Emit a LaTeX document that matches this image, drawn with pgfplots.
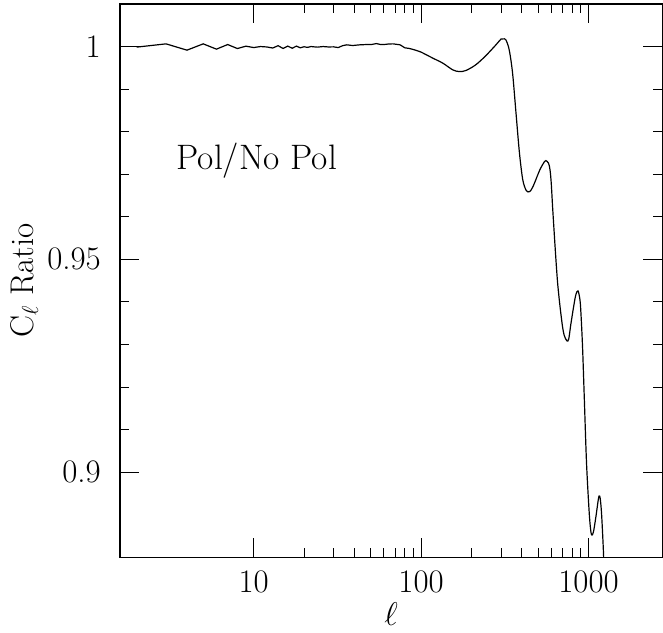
\RequirePackage{fix-cm}
\documentclass[border=0pt]{standalone}
\usepackage{fontspec}
\usepackage{pgfplots}
\pgfplotsset{compat=1.18}

\begin{document}
\begin{tikzpicture}
\begin{axis}[
  name=ax,
  xmode=log,
  width=543bp, height=553.7bp, scale only axis,
  xmin=1.59, xmax=2760,
  ymin=0.88, ymax=1.01,
  xtick={10,100,1000}, xticklabels={10,100,1000},
  ytick={0.9,0.95,1}, yticklabels={0.9,0.95,1},
  /pgf/number format/assume math mode=true,
  minor y tick num=4,
  tick align=inside,
  major tick length=19bp, minor tick length=9.5bp,
  every tick/.style={black, line width=0.9bp},
  axis line style={line width=1.3bp},
  tick label style={font=\fontsize{33}{38}\selectfont, inner sep=0pt},
  xticklabel style={anchor=base, yshift=-35.3bp},
  yticklabel style={anchor=base east, xshift=-19bp, yshift=-10.5bp},
  xlabel={$\ell$},
  ylabel={C$_\ell$ Ratio},
  label style={font=\fontsize{33}{38}\selectfont, inner sep=0pt},
  xlabel style={at={(axis description cs:0.5,-0.124)}, anchor=base},
  ylabel style={at={(axis description cs:-0.160,0.5)}, anchor=base},
]
% low multipoles: jagged
\addplot[black, line width=1.2bp] coordinates {
(2,0.99986) (3,1.00063) (4,0.99915) (5,1.00063) (6,0.99939) (7,1.00047)
(8,0.99953) (9,1.00009) (10,0.99976) (11,1.0000) (12,0.9999) (13,0.99965)
(14,1.0002) (15,0.99955) (16,1.0001) (17,0.9996) (18,1.0001) (19,0.9997)
(20,0.99995) (21,0.9998) (22,1.0000) (24,0.99986) (26,1.0000) (28,0.9999)
(30,0.99993) (32,0.99976) (34,1.0002) (36,1.0004) (39,1.00024) (43,1.0004)
(47,1.00047) (51,1.0005) (54,1.0007) (57,1.0005) (60,1.00047) (64,1.0006)
(68,1.00063) (72,1.0005) (75,1.0004) (80,0.9997) (85,0.99955) (90,0.9993)
(95,0.9990) (100,0.9987)
};
% high multipoles: smooth oscillations
\addplot[black, line width=1.2bp, smooth] coordinates {
(100,0.9987) (117.6,0.99727) (134.8,0.9961) (154.6,0.99452) (169,0.99412)
(185,0.99436) (212,0.9957) (243,0.99781) (280,1.0004) (300,1.00175)
(310,1.0018) (321,1.00157) (336,0.99922) (352,0.99375) (369,0.98434)
(387,0.97494) (405,0.96866) (425,0.96615) (445,0.96591) (466,0.96709)
(512,0.97102) (546,0.97297) (556,0.9732) (577,0.97259) (589,0.97101)
(599,0.96789) (610,0.96239) (624,0.95614) (639,0.94986) (653,0.94469)
(669,0.94046) (684,0.93717) (700,0.93411) (716,0.93211) (743,0.93082)
(762,0.93129) (786,0.93498) (835,0.94123) (865,0.94257) (889,0.94046)
(901,0.93733) (921,0.92948) (943,0.91772) (973,0.90207) (1010,0.89031)
(1033,0.88599) (1048,0.88521) (1071,0.88599) (1107,0.88952) (1143,0.89344)
(1158,0.89438) (1174,0.89384) (1196,0.89031) (1224,0.88246) (1246,0.87463)
};
\node[anchor=base west, font=\fontsize{35.5}{40}\selectfont, inner sep=0pt]
  at (axis cs:3.46,0.9712) {Pol/No Pol};
\end{axis}
\path (ax.south west) ++(-120bp,-75.3bp) coordinate (bl);
\path (ax.north east) ++(0bp,4bp) coordinate (tr);
\path (bl) rectangle (tr);
\end{tikzpicture}
\end{document}
